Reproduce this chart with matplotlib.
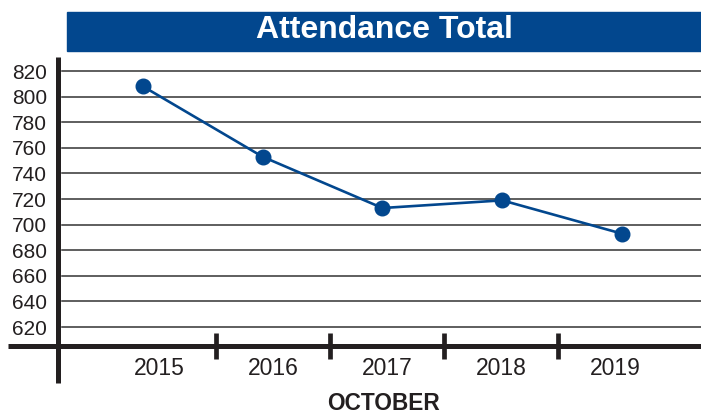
import numpy as np
import matplotlib.pyplot as plt
from matplotlib.patches import Rectangle

years = ["2015", "2016", "2017", "2018", "2019"]
attendance = [808, 753, 713, 719, 693]
y_ticks = [620, 640, 660, 680, 700, 720, 740, 760, 780, 800, 820]

BLUE = "#02478e"
DARK = "#231f20"

plt.rcParams["font.family"] = ["Liberation Sans", "DejaVu Sans"]

fig = plt.figure(figsize=(7.01, 4.13), dpi=100)
ax = fig.add_axes([58 / 701, 67 / 413, 643 / 701, 289 / 413])

# title bar
fig.patches.append(Rectangle((67 / 701, 362 / 413), 634 / 701, 39 / 413,
                             transform=fig.transFigure, color=BLUE, zorder=0))
fig.text(384 / 701, 1 - 30 / 413, "Attendance Total", color="white",
         fontsize=23, fontweight="bold", ha="center", va="center")

# points sit slightly spread compared with the category centres
pos = np.arange(len(years))
pts = pos * 1.05 - 0.14
ax.plot(pts, attendance, color=BLUE, lw=1.9, marker="o", ms=10.5,
        zorder=3, clip_on=False)

ax.set_xlim(-0.886, 4.754)
ax.set_ylim(605.2, 831)

for v in y_ticks:
    ax.axhline(v, xmin=4 / 643, color="#333333", lw=1.1, zorder=1)

ax.set_yticks(y_ticks)
ax.tick_params(axis="y", length=0, pad=8, labelsize=15, labelcolor=DARK)

ax.set_xticks(pos[:-1] + 0.5)
ax.set_xticklabels([])
ax.tick_params(axis="x", which="major", direction="inout", length=19,
               width=3.4, color=DARK)
ax.set_xticks(pos, minor=True)
ax.set_xticklabels(years, minor=True)
ax.tick_params(axis="x", which="minor", length=0, pad=8, labelsize=16.5,
               labelcolor=DARK)

for s in ax.spines.values():
    s.set_visible(False)

# axis lines that run past the plot area
ax.plot([0, 0], [-0.128, 1], transform=ax.transAxes, color=DARK, lw=3.6,
        clip_on=False, solid_capstyle="butt", zorder=4)
ax.plot([-0.078, 1], [0, 0], transform=ax.transAxes, color=DARK, lw=3.6,
        clip_on=False, solid_capstyle="butt", zorder=4)

fig.text(383 / 701, 1 - 403 / 413, "OCTOBER", color=DARK, fontsize=16.3,
         fontweight="bold", ha="center", va="center")

fig.savefig("out.png", dpi=100)
